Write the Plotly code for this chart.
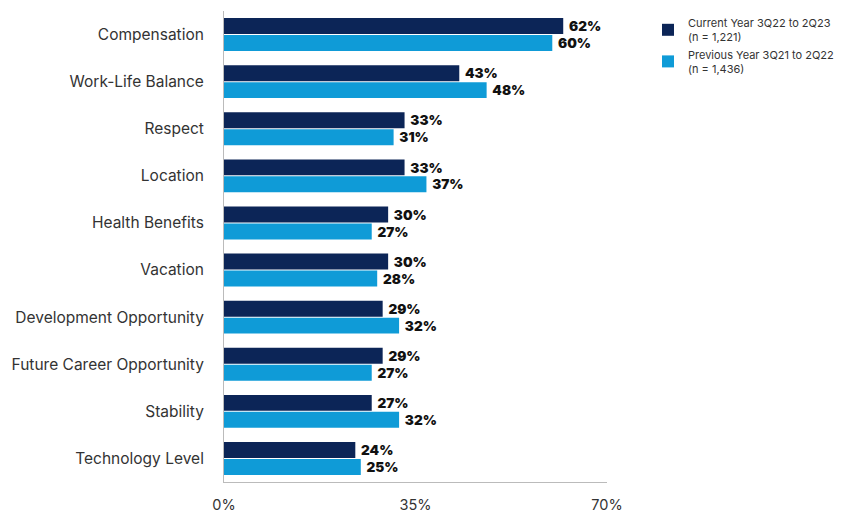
import plotly.graph_objects as go

categories = ["Compensation", "Work-Life Balance", "Respect", "Location", "Health Benefits",
              "Vacation", "Development Opportunity", "Future Career Opportunity", "Stability",
              "Technology Level"]
current_year = [62, 43, 33, 33, 30, 30, 29, 29, 27, 24]
previous_year = [60, 48, 31, 37, 27, 28, 32, 27, 32, 25]
series_names = ["Current Year 3Q22 to 2Q23<br>(n = 1,221)", "Previous Year 3Q21 to 2Q22<br>(n = 1,436)"]
tick_vals = [0, 35, 70]
tick_text = ["0%", "35%", "70%"]

dark = "#0c2557"
light = "#0f9bd7"

fig = go.Figure()
for vals, name, col in [(current_year, series_names[0], dark), (previous_year, series_names[1], light)]:
    fig.add_trace(go.Bar(
        y=categories, x=vals, orientation="h", name=name,
        marker=dict(color=col, line=dict(width=0)),
        text=[f"\u00a0{v}%" for v in vals], textposition="outside",
        textfont=dict(family="Inter", size=14.5, color="#111111", weight=900),
        cliponaxis=False,
    ))

fig.update_layout(
    width=842, height=512,
    margin=dict(l=224, r=235, t=11, b=30, autoexpand=False),
    barmode="group", bargap=0.28, bargroupgap=0.06,
    plot_bgcolor="white", paper_bgcolor="white",
    font=dict(family="Inter", color="#333333"),
    legend=dict(
        xref="container", yref="container", x=648 / 842, y=1 - 9 / 512,
        xanchor="left", yanchor="top", font=dict(size=11, color="#333333"),
        itemwidth=30, tracegroupgap=4, bgcolor="rgba(0,0,0,0)",
    ),
    showlegend=True,
)
fig.update_xaxes(
    range=[0, 70], tickvals=tick_vals, ticktext=tick_text, showgrid=False, zeroline=False,
    showline=True, linecolor="#bbbbbb", linewidth=1, ticks="", ticklabelstandoff=10,
    tickfont=dict(size=14.5, color="#333333"), automargin=False,
)
fig.update_yaxes(
    autorange="reversed", showgrid=False, showline=True, linecolor="#bbbbbb", linewidth=1,
    ticks="", ticklabelstandoff=16, tickfont=dict(size=15.5, color="#333333"), automargin=False,
)
fig.write_html("out.html")
